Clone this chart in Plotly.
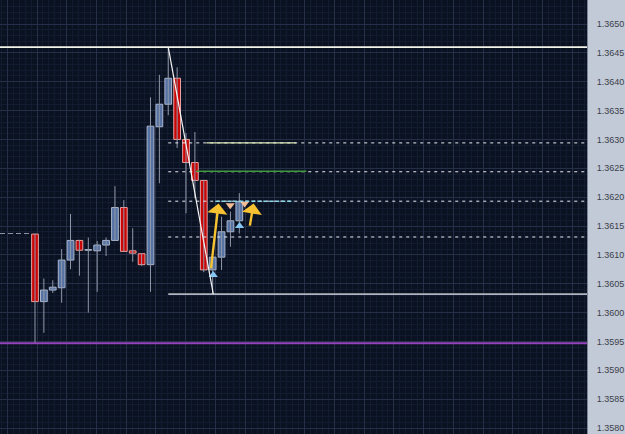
import plotly.graph_objects as go

# ---- data (EURUSD-like candles) ----
opens  = [1.36136, 1.36019, 1.36039, 1.36043, 1.36091, 1.36125, 1.36108, 1.36107, 1.36117, 1.36125,
          1.36182, 1.36107, 1.36102, 1.36083, 1.36322, 1.36361, 1.36406, 1.36300, 1.36260, 1.36229,
          1.36074, 1.36096, 1.36140, 1.36159]
closes = [1.36019, 1.36039, 1.36044, 1.36091, 1.36125, 1.36108, 1.36108, 1.36117, 1.36125, 1.36182,
          1.36106, 1.36103, 1.36083, 1.36323, 1.36361, 1.36406, 1.36300, 1.36260, 1.36229, 1.36074,
          1.36096, 1.36140, 1.36159, 1.36192]
highs  = [1.36137, 1.36059, 1.36056, 1.36110, 1.36171, 1.36126, 1.36130, 1.36124, 1.36130, 1.36219,
          1.36195, 1.36146, 1.36102, 1.36373, 1.36412, 1.36460, 1.36425, 1.36311, 1.36313, 1.36229,
          1.36096, 1.36166, 1.36175, 1.36207]
lows   = [1.35947, 1.35965, 1.36034, 1.36017, 1.36075, 1.36064, 1.36000, 1.36036, 1.36098, 1.36125,
          1.36106, 1.36088, 1.36081, 1.36036, 1.36224, 1.36342, 1.36285, 1.36172, 1.36198, 1.36070,
          1.36032, 1.36074, 1.36114, 1.36137]
idx = list(range(len(opens)))

high_level = 1.36460
low_level = 1.36032
purple_level = 1.35947
left_dash_level = 1.36137
fib_levels = [1.36294, 1.36244, 1.36193, 1.36131]
fib_start = 15
# colored segments: (level, x0, x1, color, dash)
segments = [(1.36294, 19.3, 29.4, "#dfeab8", "solid"),
            (1.36245, 18.15, 30.55, "#3f9a3f", "solid"),
            (1.36193, 20.3, 29.1, "#8ad6e6", "dash")]
trend_x = [15, 20.07]
trend_y = [1.36460, 1.36032]
up_tri_x = [20.07, 23.03]
up_tri_y = [1.36065, 1.36150]
dn_tri_x = [21.98, 23.6]
dn_tri_y = [1.36186, 1.36189]
arrows = [(19.79, 1.36074, 20.66, 1.36189), (24.16, 1.36148, 24.61, 1.36189)]
yticks = [1.3580 + 0.0005 * k for k in range(16)]

fig = go.Figure()

# wicks
wx, wy = [], []
for i in idx:
    wx += [i, i, None]
    wy += [lows[i], highs[i], None]
fig.add_trace(go.Scatter(x=wx, y=wy, mode="lines", line=dict(color="#9098aa", width=1),
                         hoverinfo="skip", showlegend=False))

# bodies
bull = [i for i in idx if closes[i] >= opens[i]]
bear = [i for i in idx if closes[i] < opens[i]]
mind = 0.000012
fig.add_trace(go.Bar(x=bull, y=[max(abs(closes[i] - opens[i]), mind) for i in bull],
                     base=[min(opens[i], closes[i]) for i in bull], width=0.76,
                     marker=dict(color="#5673a3", line=dict(color="#a9b5cc", width=1)),
                     showlegend=False))
fig.add_trace(go.Bar(x=bear, y=[max(abs(closes[i] - opens[i]), mind) for i in bear],
                     base=[min(opens[i], closes[i]) for i in bear], width=0.76,
                     marker=dict(color="#c80606", line=dict(color="#e8a0a0", width=1)),
                     showlegend=False))

shapes = []
# high line (full width)
shapes.append(dict(type="line", xref="paper", x0=0, x1=1, yref="y", y0=high_level, y1=high_level,
                   line=dict(color="#f4f4ea", width=1.6)))
# purple line
shapes.append(dict(type="line", xref="paper", x0=0, x1=1, yref="y", y0=purple_level, y1=purple_level,
                   line=dict(color="#9444bc", width=2)))
# left dashed
shapes.append(dict(type="line", xref="x", x0=-3.94, x1=-0.56, yref="y", y0=left_dash_level, y1=left_dash_level,
                   line=dict(color="#8a92a4", width=1, dash="5px,3px")))
# fib dotted lines
for lv in fib_levels:
    shapes.append(dict(type="line", xref="x", x0=fib_start, x1=62.2, yref="y", y0=lv, y1=lv,
                       line=dict(color="#e8ecf4", width=1, dash="3px,4px")))
# low line
shapes.append(dict(type="line", xref="x", x0=fib_start, x1=62.2, yref="y", y0=low_level, y1=low_level,
                   line=dict(color="#b0b4be", width=1.6)))
for lv, x0, x1, col, dsh in segments:
    shapes.append(dict(type="line", xref="x", x0=x0, x1=x1, yref="y", y0=lv, y1=lv,
                       line=dict(color=col, width=1.4, dash=dsh if dsh == "solid" else "4px,2px")))
# trend line
shapes.append(dict(type="line", xref="x", x0=trend_x[0], x1=trend_x[1], yref="y", y0=trend_y[0], y1=trend_y[1],
                   line=dict(color="#f4f4f4", width=1.2)))

fig.add_trace(go.Scatter(x=up_tri_x, y=up_tri_y, mode="markers",
                         marker=dict(symbol="triangle-up", size=8, color="#86c6f2"),
                         showlegend=False, hoverinfo="skip"))
fig.add_trace(go.Scatter(x=dn_tri_x, y=dn_tri_y, mode="markers",
                         marker=dict(symbol="triangle-down", size=8, color="#f2bc94"),
                         showlegend=False, hoverinfo="skip"))

annotations = []
for (tx, ty, hx, hy) in arrows:
    annotations.append(dict(x=hx, y=hy, ax=tx, ay=ty, xref="x", yref="y", axref="x", ayref="y",
                            showarrow=True, arrowhead=1, arrowsize=1.4, arrowwidth=2.4,
                            arrowcolor="#f6c232", text=""))

fig.update_layout(
    width=625, height=434,
    margin=dict(l=0, r=38, t=0, b=0),
    paper_bgcolor="#c3cad7",
    plot_bgcolor="#0a1121",
    barmode="overlay",
    shapes=shapes,
    annotations=annotations,
    showlegend=False,
    xaxis=dict(range=[-3.94, 62.14], showticklabels=False, zeroline=False,
               showgrid=True, gridcolor="#262f48", gridwidth=1, dtick=3.348, tick0=3.574,
               ticks="", tickmode="linear",
               minor=dict(showgrid=True, gridcolor="#131b30", dtick=3.348 / 5, tick0=3.574)),
    yaxis=dict(range=[1.357896, 1.365416], side="right", tickmode="array", tickvals=yticks,
               ticktext=[f"{v:.4f}" for v in yticks], zeroline=False,
               showgrid=True, gridcolor="#262f48", gridwidth=1,
               tickfont=dict(family="Liberation Sans, Arial", size=9, color="#3a3f4a"),
               ticks="", ticklabelstandoff=7,
               showline=True, linecolor="#7d8698", linewidth=1,
               minor=dict(showgrid=True, gridcolor="#131b30", dtick=0.0001)),
)

fig.write_html("out.html")
